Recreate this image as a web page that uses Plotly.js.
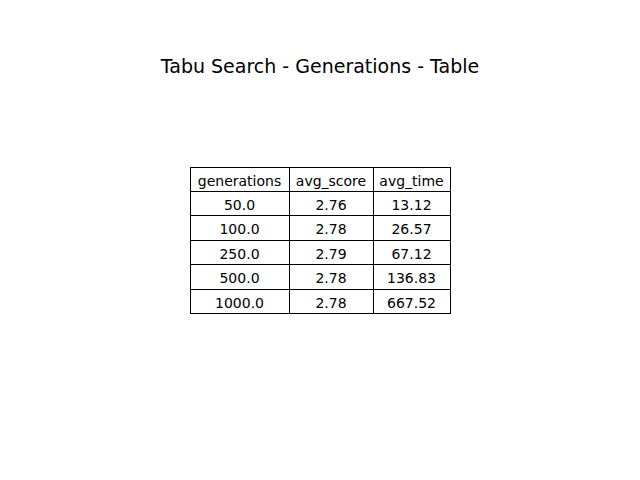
<!DOCTYPE html>
<html>
<head>
<script src="https://cdn.plot.ly/plotly-3.0.1.min.js"></script>
<style>body{margin:0}</style>
</head>
<body>
<div id="chart" style="width:640px;height:480px"></div>
<script>
// table data
var headers = ['generations', 'avg_score', 'avg_time'];
var generations = ['50.0', '100.0', '250.0', '500.0', '1000.0'];
var avgScore = ['2.76', '2.78', '2.79', '2.78', '2.78'];
var avgTime = ['13.12', '26.57', '67.12', '136.83', '667.52'];

var trace = {
  type: 'table',
  domain: {x: [190/640, 450/640], y: [1 - 314/480, 1 - 167/480]},
  columnwidth: [99, 84, 77],
  header: {
    values: headers,
    height: 24.4,
    align: 'center',
    line: {color: 'black', width: 1},
    fill: {color: 'white'},
    font: {family: 'DejaVu Sans', size: 14, color: 'black'}
  },
  cells: {
    values: [generations, avgScore, avgTime],
    height: 24.4,
    align: 'center',
    line: {color: 'black', width: 1},
    fill: {color: 'white'},
    font: {family: 'DejaVu Sans', size: 14, color: 'black'}
  }
};

var layout = {
  width: 640,
  height: 480,
  margin: {l: 0, r: 0, t: 0, b: 0},
  paper_bgcolor: 'white',
  title: {
    text: 'Tabu Search - Generations - Table',
    x: 0.5, y: 1 - 66/480, yanchor: 'middle',
    font: {family: 'DejaVu Sans', size: 19, color: 'black'}
  }
};

Plotly.newPlot('chart', [trace], layout, {displayModeBar: false});
</script>
</body>
</html>
